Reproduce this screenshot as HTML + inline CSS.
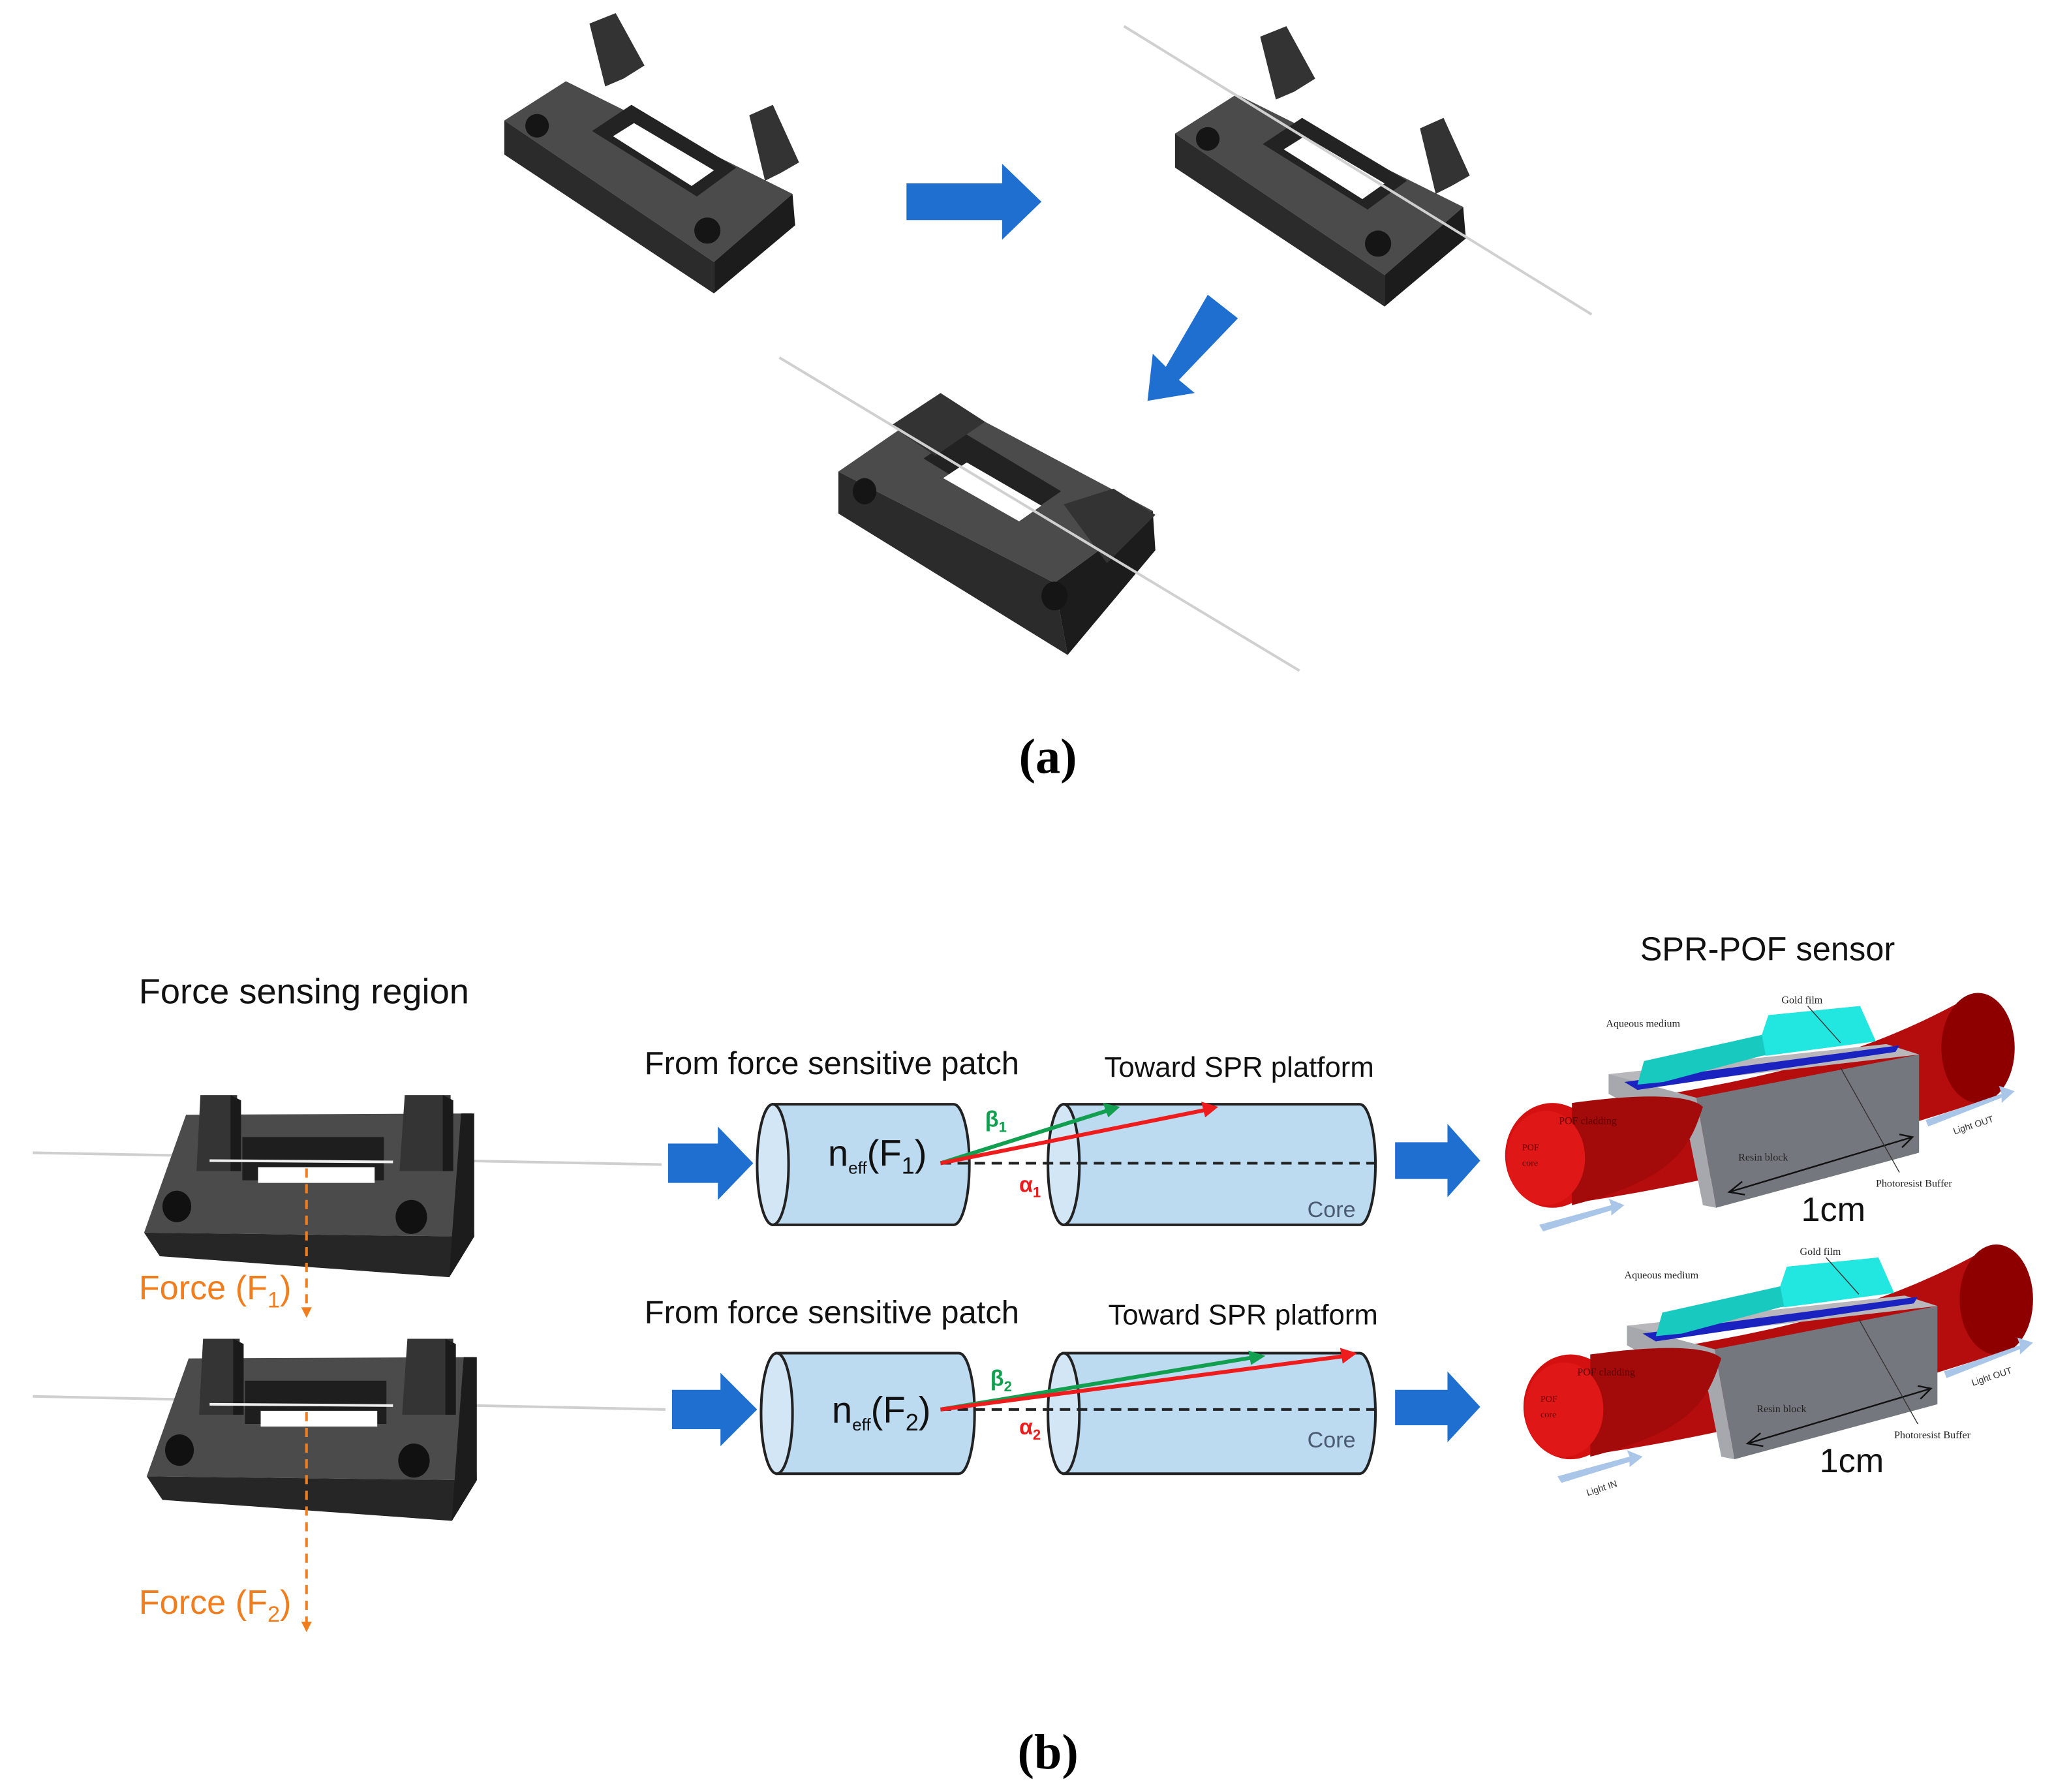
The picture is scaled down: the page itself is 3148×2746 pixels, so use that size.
<!DOCTYPE html>
<html><head><meta charset="utf-8"><style>html,body{margin:0;padding:0;background:#fff}svg{display:block}</style></head>
<body>
<svg width="3148" height="2746" viewBox="0 0 1568 1368" preserveAspectRatio="none" xmlns="http://www.w3.org/2000/svg" font-family="Liberation Sans, DejaVu Sans, sans-serif">
<defs>
<g id="hopen">
 <polygon points="385,92 432,62 605,148 545,200" fill="#4b4b4b"/>
 <polygon points="385,92 545,200 545,224 385,118" fill="#2b2b2b"/>
 <polygon points="545,200 605,148 607,172 545,224" fill="#1c1c1c"/>
 <polygon points="452,100 482,80 562,128 532,150" fill="#232323"/>
 <polygon points="468,104 484,94 545,130 528,142" fill="#fff"/>
 <ellipse cx="410" cy="96" rx="9" ry="9" fill="#151515"/>
 <ellipse cx="540" cy="176" rx="10" ry="10" fill="#151515"/>
 <polygon points="450,18 470,10 492,50 476,60 462,66" fill="#333"/>
 <polygon points="572,88 590,80 610,124 596,132 584,138" fill="#333"/>
</g>
<g id="hfront">
 <polygon points="142,851 360,850 362,944 110,941" fill="#4b4b4b"/>
 <polygon points="110,941 362,944 343,975 122,959" fill="#262626"/>
 <polygon points="352,850 362,850 362,944 343,975 345,944" fill="#1c1c1c"/>
 <polygon points="185,868 293,868 293,901 185,901" fill="#1e1e1e"/>
 <polygon points="197,891 286,891 286,903 197,903" fill="#fff"/>
 <polygon points="153,836 181,836 181,894 150,894" fill="#343434"/>
 <polygon points="309,836 344,836 344,894 305,894" fill="#343434"/>
 <polygon points="176,836 184,840 184,894 176,894" fill="#1a1a1a"/>
 <polygon points="338,836 346,840 346,894 338,894" fill="#1a1a1a"/>
 <ellipse cx="135" cy="921" rx="11" ry="12" fill="#111"/>
 <ellipse cx="314" cy="929" rx="12" ry="13" fill="#111"/>
</g>
<g id="spr">
 <path d="M1185,850 C1300,830 1400,820 1505,760 L1515,840 C1420,870 1330,900 1190,920 Z" fill="#b50d0d"/>
 <ellipse cx="1510" cy="800" rx="28" ry="42" fill="#8e0000"/>
 <polygon points="1228,820 1440,797 1465,805 1250,830" fill="#b8b8bc"/>
 <polygon points="1295,838 1465,805 1465,880 1310,922" fill="#74787e"/>
 <polygon points="1228,820 1295,838 1310,922 1300,920 1290,870 1228,835" fill="#a6a8ad"/>
 <polygon points="1240,826 1450,798 1447,803 1250,832" fill="#1a22c0"/>
 <path d="M1250,828 L1255,810 L1345,790 L1350,775 L1420,768 L1430,795 L1345,806 L1270,826 Z" fill="#18c9c0"/>
 <path d="M1345,790 L1350,775 L1420,768 L1432,795 L1348,806 Z" fill="#22e6e0"/>
 <ellipse cx="1185" cy="882" rx="36" ry="40" fill="#d41010"/>
 <path d="M1200,842 C1250,835 1290,835 1300,845 C1290,875 1280,900 1200,920 Z" fill="#a30a0a"/>
 <ellipse cx="1180" cy="884" rx="30" ry="36" fill="#e01717"/>
 <text x="1162" y="878" font-size="7" font-family="Liberation Serif, serif" fill="#600">POF</text>
 <text x="1162" y="890" font-size="7" font-family="Liberation Serif, serif" fill="#600">core</text>
 <text x="1190" y="858" font-size="8" font-family="Liberation Serif, serif" fill="#500">POF cladding</text>
 <text x="1327" y="886" font-size="8" font-family="Liberation Serif, serif" fill="#222">Resin block</text>
 <text x="1226" y="784" font-size="8" font-family="Liberation Serif, serif" fill="#222">Aqueous medium</text>
 <text x="1360" y="766" font-size="8" font-family="Liberation Serif, serif" fill="#222">Gold film</text>
 <text x="1432" y="906" font-size="8" font-family="Liberation Serif, serif" fill="#222">Photoresist Buffer</text>
 <line x1="1320" y1="910" x2="1460" y2="868" stroke="#111" stroke-width="1.2"/>
 <polyline points="1330,902 1320,910 1332,912" fill="none" stroke="#111" stroke-width="1.2"/>
 <polyline points="1450,866 1460,868 1452,876" fill="none" stroke="#111" stroke-width="1.2"/>
 <line x1="1380" y1="768" x2="1405" y2="796" stroke="#333" stroke-width="0.7"/>
 <line x1="1405" y1="815" x2="1450" y2="895" stroke="#333" stroke-width="0.7"/>
 <polygon points="1175,935 1230,920 1228,915 1240,920 1230,928 1230,924 1178,940" fill="#a9c6e8"/>
 <polygon points="1470,855 1528,835 1526,829 1538,833 1528,842 1528,838 1472,860" fill="#a9c6e8"/>
 <text x="1492" y="866" font-size="7" fill="#333" transform="rotate(-18 1492 866)">Light OUT</text>
 <text x="1375" y="932" font-size="26" fill="#111">1cm</text>
</g>
</defs>

<!-- (a) -->
<use href="#hopen"/>
<use href="#hopen" transform="translate(512,10)"/>
<line x1="858" y1="20" x2="1215" y2="240" stroke="#d0d0d0" stroke-width="2"/>
<polygon points="692,140 765,140 765,125 795,154 765,183 765,168 692,168" fill="#1f6fd0"/>
<polygon points="922,225 945,243 900,290 912,300 876,306 880,270 890,280" fill="#1f6fd0"/>
<polygon points="640,360 720,305 880,390 805,445" fill="#4b4b4b"/>
<polygon points="640,360 805,445 815,500 640,392" fill="#2b2b2b"/>
<polygon points="805,445 880,390 882,420 815,500" fill="#1c1c1c"/>
<polygon points="705,350 735,330 810,375 780,396" fill="#222"/>
<polygon points="720,365 738,353 795,386 778,398" fill="#fff"/>
<polygon points="680,325 718,300 752,322 714,348" fill="#333"/>
<polygon points="812,385 850,373 882,393 845,430" fill="#333"/>
<ellipse cx="660" cy="375" rx="9" ry="10" fill="#151515"/>
<ellipse cx="805" cy="455" rx="10" ry="11" fill="#151515"/>
<line x1="595" y1="273" x2="992" y2="512" stroke="#d0d0d0" stroke-width="2"/>
<text x="800" y="590" font-size="38" font-weight="bold" text-anchor="middle" font-family="Liberation Serif, serif">(a)</text>

<!-- (b) -->
<text x="106" y="766" font-size="27" fill="#111">Force sensing region</text>
<line x1="25" y1="880" x2="505" y2="889" stroke="#cfcfcf" stroke-width="2"/>
<use href="#hfront"/>
<line x1="160" y1="886" x2="300" y2="887" stroke="#eee" stroke-width="2"/>
<line x1="234" y1="892" x2="234" y2="998" stroke="#f07d1e" stroke-width="2" stroke-dasharray="7,5"/>
<polygon points="230,998 238,998 234,1006" fill="#f07d1e"/>
<text x="106" y="992" font-size="26" fill="#f07d1e">Force (F<tspan font-size="17" dy="6">1</tspan><tspan dy="-6">)</tspan></text>

<line x1="25" y1="1066" x2="508" y2="1076" stroke="#cfcfcf" stroke-width="2"/>
<use href="#hfront" transform="translate(2,186)"/>
<line x1="160" y1="1072" x2="300" y2="1073" stroke="#eee" stroke-width="2"/>
<line x1="234" y1="1078" x2="234" y2="1238" stroke="#f07d1e" stroke-width="2" stroke-dasharray="7,5"/>
<polygon points="230,1238 238,1238 234,1246" fill="#f07d1e"/>
<text x="106" y="1232" font-size="26" fill="#f07d1e">Force (F<tspan font-size="17" dy="6">2</tspan><tspan dy="-6">)</tspan></text>

<!-- row 1 cylinders -->
<text x="492" y="820" font-size="24.4" fill="#111">From force sensitive patch</text>
<text x="843" y="822" font-size="21.8" fill="#111">Toward SPR platform</text>
<path d="M590,843 H728 A12,46 0 0 1 728,935 H590 Z" fill="#bcdaf0" stroke="#222" stroke-width="2"/>
<ellipse cx="590" cy="889" rx="12" ry="46" fill="#d2e6f5" stroke="#222" stroke-width="2"/>
<path d="M812,843 H1038 A12,46 0 0 1 1038,935 H812 Z" fill="#bcdaf0" stroke="#222" stroke-width="2"/>
<ellipse cx="812" cy="889" rx="12" ry="46" fill="#d2e6f5" stroke="#222" stroke-width="2"/>
<line x1="718" y1="888" x2="1050" y2="888" stroke="#222" stroke-width="2" stroke-dasharray="8,5"/>
<text x="998" y="929" font-size="17" fill="#4a5a70">Core</text>
<polygon points="510,873 548,873 548,860 575,888 548,916 548,903 510,903" fill="#1f6fd0"/>
<polygon points="1065,872 1105,872 1105,858 1130,886 1105,914 1105,900 1065,900" fill="#1f6fd0"/>
<text x="632" y="890" font-size="28" fill="#111">n<tspan font-size="13" dy="6">eff</tspan><tspan dy="-6">(F</tspan><tspan font-size="18" dy="6">1</tspan><tspan dy="-6">)</tspan></text>
<line x1="718" y1="888" x2="848" y2="847" stroke="#12a050" stroke-width="3"/>
<polygon points="855,845 842,842 846,853" fill="#12a050"/>
<line x1="718" y1="888" x2="922" y2="847" stroke="#ee1c1c" stroke-width="3"/>
<polygon points="930,845 917,841 920,853" fill="#ee1c1c"/>
<text x="752" y="860" font-size="17" font-weight="bold" fill="#12a050">β<tspan font-size="11" dy="4">1</tspan></text>
<text x="778" y="910" font-size="17" font-weight="bold" fill="#ee1c1c">α<tspan font-size="11" dy="4">1</tspan></text>

<!-- row 2 cylinders -->
<text x="492" y="1010" font-size="24.4" fill="#111">From force sensitive patch</text>
<text x="846" y="1011" font-size="21.8" fill="#111">Toward SPR platform</text>
<path d="M593,1033 H732 A12,46 0 0 1 732,1125 H593 Z" fill="#bcdaf0" stroke="#222" stroke-width="2"/>
<ellipse cx="593" cy="1079" rx="12" ry="46" fill="#d2e6f5" stroke="#222" stroke-width="2"/>
<path d="M812,1033 H1038 A12,46 0 0 1 1038,1125 H812 Z" fill="#bcdaf0" stroke="#222" stroke-width="2"/>
<ellipse cx="812" cy="1079" rx="12" ry="46" fill="#d2e6f5" stroke="#222" stroke-width="2"/>
<line x1="718" y1="1076" x2="1050" y2="1076" stroke="#222" stroke-width="2" stroke-dasharray="8,5"/>
<text x="998" y="1105" font-size="17" fill="#4a5a70">Core</text>
<polygon points="513,1061 550,1061 550,1048 578,1076 550,1104 550,1091 513,1091" fill="#1f6fd0"/>
<polygon points="1065,1061 1105,1061 1105,1047 1130,1074 1105,1101 1105,1088 1065,1088" fill="#1f6fd0"/>
<text x="635" y="1086" font-size="28" fill="#111">n<tspan font-size="13" dy="6">eff</tspan><tspan dy="-6">(F</tspan><tspan font-size="18" dy="6">2</tspan><tspan dy="-6">)</tspan></text>
<line x1="718" y1="1076" x2="958" y2="1036" stroke="#12a050" stroke-width="3"/>
<polygon points="966,1035 953,1031 955,1042" fill="#12a050"/>
<line x1="718" y1="1076" x2="1028" y2="1035" stroke="#ee1c1c" stroke-width="3"/>
<polygon points="1036,1033 1023,1029 1025,1041" fill="#ee1c1c"/>
<text x="756" y="1058" font-size="17" font-weight="bold" fill="#12a050">β<tspan font-size="11" dy="4">2</tspan></text>
<text x="778" y="1095" font-size="17" font-weight="bold" fill="#ee1c1c">α<tspan font-size="11" dy="4">2</tspan></text>

<text x="1252" y="733" font-size="25.2" fill="#111">SPR-POF sensor</text>
<use href="#spr"/>
<use href="#spr" transform="translate(14,192)"/>
<text x="1212" y="1142" font-size="7" fill="#333" transform="rotate(-18 1212 1142)">Light IN</text>

<text x="800" y="1350" font-size="38" font-weight="bold" text-anchor="middle" font-family="Liberation Serif, serif">(b)</text>
</svg>
</body></html>
